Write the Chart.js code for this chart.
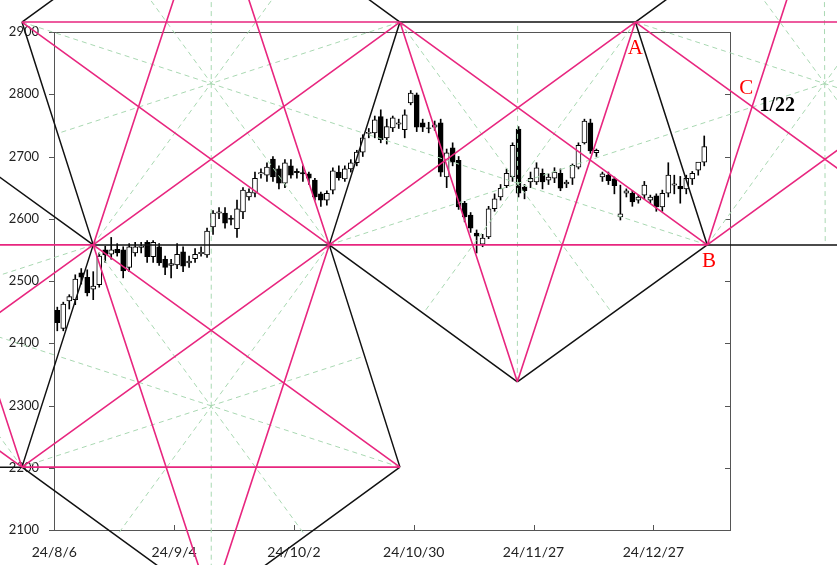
<!DOCTYPE html>
<html>
<head>
<meta charset="utf-8">
<script src="https://cdn.jsdelivr.net/npm/chart.js@4.4.1/dist/chart.umd.min.js"></script>
<style>html,body{margin:0;padding:0;background:#fff}</style>
</head>
<body>
<canvas id="graph" width="837" height="565"></canvas>
<script>
// daily candles, index 0 = 24/8/6
var opens = [2453,2424,2468,2470,2513,2506,2487,2494,2550,2543,
  2551,2550,2522,2545,2554,2562,2539,2555,2535,2525,
  2526,2547,2529,2536,2544,2542,2587,2609,2609,2601,
  2584,2611,2635,2641,2672,2670,2696,2680,2657,2685,
  2676,2674,2672,2662,2640,2630,2646,2675,2664,2680,
  2690,2707,2737,2738,2764,2730,2746,2752,2743,2786,
  2799,2754,2746,2747,2754,2667,2714,2694,2625,2606,
  2577,2559,2571,2616,2635,2653,2667,2744,2651,2659,
  2659,2673,2662,2665,2673,2656,2665,2683,2722,2754,
  2706,2667,2670,2664,2603,2641,2641,2630,2638,2630,
  2637,2619,2641,2654,2652,2648,2664,2678,2691];
var highs = [2458,2466,2478,2510,2520,2518,2515,2545,2556,2570,
  2560,2555,2560,2562,2562,2565,2565,2560,2540,2535,
  2560,2555,2540,2552,2555,2585,2613,2618,2618,2605,
  2630,2650,2648,2675,2680,2690,2700,2685,2695,2695,
  2680,2685,2675,2665,2643,2645,2682,2685,2685,2695,
  2710,2735,2745,2765,2775,2760,2765,2760,2775,2806,
  2802,2760,2755,2757,2760,2712,2722,2700,2628,2610,
  2582,2575,2620,2640,2655,2680,2722,2748,2655,2675,
  2690,2680,2672,2682,2680,2662,2688,2722,2760,2760,
  2712,2675,2675,2667,2654,2648,2645,2638,2660,2638,
  2640,2646,2690,2670,2668,2670,2676,2690,2733];
var lows = [2420,2420,2455,2462,2495,2476,2470,2490,2530,2535,
  2540,2505,2515,2540,2545,2530,2530,2525,2510,2505,
  2520,2515,2522,2530,2540,2538,2575,2600,2585,2590,
  2570,2600,2630,2635,2665,2660,2660,2648,2650,2665,
  2665,2660,2655,2630,2620,2622,2640,2662,2660,2675,
  2685,2700,2730,2730,2722,2720,2740,2745,2730,2783,
  2740,2740,2738,2742,2668,2650,2685,2615,2595,2578,
  2545,2555,2568,2612,2630,2650,2660,2635,2632,2650,
  2655,2648,2655,2658,2645,2650,2655,2680,2720,2705,
  2700,2660,2655,2640,2598,2635,2620,2625,2632,2625,
  2612,2612,2635,2640,2625,2640,2655,2670,2685];
var closes = [2433,2463,2475,2503,2506,2481,2492,2540,2542,2550,
  2545,2516,2555,2555,2556,2539,2562,2529,2522,2528,
  2543,2524,2532,2543,2546,2580,2609,2611,2593,2599,
  2616,2646,2643,2665,2674,2683,2667,2657,2690,2670,
  2674,2672,2665,2635,2630,2641,2677,2666,2680,2690,
  2707,2730,2739,2759,2727,2748,2762,2754,2767,2802,
  2747,2747,2745,2751,2675,2706,2691,2619,2603,2585,
  2572,2569,2616,2632,2649,2673,2718,2641,2645,2665,
  2682,2659,2667,2675,2649,2659,2686,2718,2757,2709,
  2710,2672,2661,2653,2608,2645,2627,2635,2654,2635,
  2619,2641,2670,2656,2648,2665,2673,2691,2716];

var tickIdx = [-0.5, 19.5, 39.5, 59.5, 79.5, 99.5];
var tickLabels = ['24/8/6', '24/9/4', '24/10/2', '24/10/30', '24/11/27', '24/12/27'];

// pivot points [bar index, price]
var nodes = {
  PA: [25.7, 3136], PB: [25.7, 1980], AL: [-25.6, 2778], Q: [128.0, 3136],
  T0: [-5.9, 2916], T1: [57.2, 2916], A: [96.5, 2916], A2: [159.6, 2916],
  ML: [-57.1, 2558], M0: [6.0, 2558], M1: [45.4, 2558], B: [108.5, 2558], M2: [147.9, 2558],
  BL: [-45.3, 2201], B0: [-5.9, 2201], B1: [57.2, 2201],
  L: [76.8, 2338]
};
// each pentagon: sides black, diagonals pink, vertex -> middle of opposite side green
var pentagons = [
  ['PA', 'T1', 'M1', 'M0', 'T0'],
  ['PB', 'B0', 'M0', 'M1', 'B1'],
  ['L', 'M1', 'T1', 'A', 'B'],
  ['Q', 'A', 'B', 'M2', 'A2'],
  ['AL', 'M0', 'B0', 'BL', 'ML']
];

var notes = [
  {text: 'A', x: 96.5, y: 2874, color: '#ff0000', font: '21px "Liberation Serif"'},
  {text: 'B', x: 108.8, y: 2532, color: '#ff0000', font: '21px "Liberation Serif"'},
  {text: 'C', x: 115.0, y: 2810, color: '#ff0000', font: '21px "Liberation Serif"'},
  {text: '1/22', x: 120.2, y: 2781, color: '#000', font: 'bold 20px "Liberation Serif"'}
];

var noir = [], rose = [], vert = [];
function seg(liste, p, q) {
  liste.push({x: p[0], y: p[1]}, {x: q[0], y: q[1]}, {x: q[0], y: null});
}
function milieu(p, q) { return [(p[0] + q[0]) / 2, (p[1] + q[1]) / 2]; }
pentagons.forEach(function(pg) {
  for (var i = 0; i < 5; i++) {
    var a = nodes[pg[i]];
    seg(noir, a, nodes[pg[(i + 1) % 5]]);
    seg(rose, a, nodes[pg[(i + 2) % 5]]);
    seg(vert, a, milieu(nodes[pg[(i + 2) % 5]], nodes[pg[(i + 3) % 5]]));
  }
});

var wicks = [], bodies = [], couleurs = [];
for (var i = 0; i < opens.length; i++) {
  wicks.push({x: i, y: [lows[i], highs[i]]});
  bodies.push({x: i, y: [opens[i], closes[i]]});
  couleurs.push(closes[i] >= opens[i] ? '#ffffff' : '#000000');
}

function ligne(data, couleur, largeur, tirets, ordre) {
  return {type: 'line', data: data, borderColor: couleur, borderWidth: largeur, borderDash: tirets,
    pointRadius: 0, tension: 0, fill: false, spanGaps: false, clip: false, order: ordre};
}

var cadre = {
  id: 'cadre',
  beforeDatasetsDraw: function(chart) {
    var ctx = chart.ctx, a = chart.chartArea, sx = chart.scales.x, sy = chart.scales.y;
    ctx.save();
    ctx.strokeStyle = '#555';
    ctx.lineWidth = 1;
    ctx.strokeRect(Math.round(a.left) + 0.5, Math.round(a.top) + 0.5, Math.round(a.right - a.left), Math.round(a.bottom - a.top));
    ctx.beginPath();
    sy.ticks.forEach(function(t) {
      var py = Math.round(sy.getPixelForValue(t.value)) + 0.5;
      ctx.moveTo(a.left - 5, py); ctx.lineTo(a.left, py);
      ctx.moveTo(a.right - 5, py); ctx.lineTo(a.right, py);
    });
    sx.ticks.forEach(function(t) {
      var px = Math.round(sx.getPixelForValue(t.value)) + 0.5;
      ctx.moveTo(px, a.bottom); ctx.lineTo(px, a.bottom - 5);
    });
    ctx.stroke();
    ctx.restore();
  },
  afterDatasetsDraw: function(chart) {
    var ctx = chart.ctx, sx = chart.scales.x, sy = chart.scales.y;
    ctx.save();
    ctx.textAlign = 'center';
    ctx.textBaseline = 'middle';
    notes.forEach(function(n) {
      ctx.font = n.font;
      ctx.fillStyle = n.color;
      ctx.fillText(n.text, sx.getPixelForValue(n.x), sy.getPixelForValue(n.y));
    });
    ctx.restore();
  }
};

new Chart(document.getElementById('graph'), {
  type: 'bar',
  data: {
    datasets: [
      ligne(rose, '#e8267f', 1.6, [], 1),
      ligne(noir, '#111111', 1.5, [], 2),
      ligne(vert, '#a9d8b2', 1, [5, 4], 3),
      {type: 'bar', data: bodies, backgroundColor: couleurs, borderColor: '#000', borderWidth: 1,
        borderSkipped: false, barThickness: 5, grouped: false, order: 4},
      {type: 'bar', data: wicks, backgroundColor: '#000', borderWidth: 0, barThickness: 1, grouped: false, order: 5}
    ]
  },
  options: {
    responsive: false,
    animation: false,
    events: [],
    layout: {padding: {left: 0, top: 32, right: 107, bottom: 0}},
    plugins: {legend: {display: false}, tooltip: {enabled: false}},
    scales: {
      x: {
        type: 'linear', min: -0.55, max: 112.3, offset: false,
        grid: {display: false, drawTicks: false}, border: {display: false},
        afterBuildTicks: function(s) { s.ticks = tickIdx.map(function(v) { return {value: v}; }); },
        afterFit: function(s) { s.height = 35; },
        ticks: {autoSkip: false, maxRotation: 0, padding: 14, color: '#222',
          font: {family: 'Lato', size: 14},
          callback: function(v, i) { return tickLabels[i]; }}
      },
      y: {
        min: 2100, max: 2900,
        grid: {display: false, drawTicks: false}, border: {display: false},
        afterFit: function(s) { s.width = 54; },
        ticks: {stepSize: 100, padding: 15, color: '#222', font: {family: 'Lato', size: 13},
          callback: function(v) { return String(v); }}
      }
    }
  },
  plugins: [cadre]
});
</script>
</body>
</html>
